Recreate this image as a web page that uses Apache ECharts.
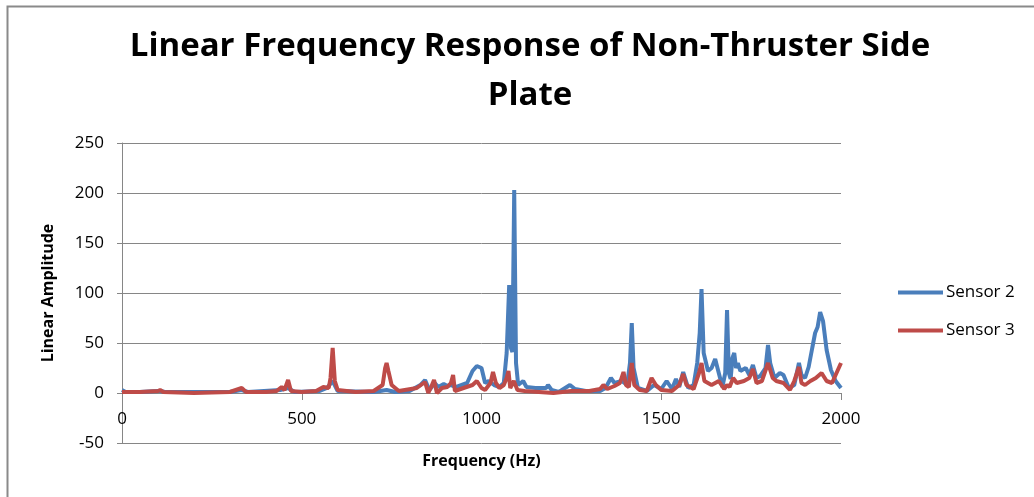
<!DOCTYPE html>
<html>
<head>
<meta charset="utf-8">
<script src="https://cdn.jsdelivr.net/npm/echarts@6/dist/echarts.min.js"></script>
<style>
html,body{margin:0;padding:0;background:#fff;}
#chart{width:1034px;height:497px;}
</style>
</head>
<body>
<div id="chart"></div>
<script>
var xTicks = [0, 500, 1000, 1500, 2000];
var yTicks = [-50, 0, 50, 100, 150, 200, 250];
var seriesNames = ['Sensor 2', 'Sensor 3'];

var freq2 = [0,10,50,100,106,120,200,300,333,350,440,462,480,550,570,586,600,700,736,760,800,830,843,855,870,880,895,905,915,930,960,975,987,1000,1010,1020,1035,1050,1062,1070,1077,1082,1086,1091,1096,1102,1116,1125,1150,1180,1185,1195,1215,1246,1260,1290,1330,1345,1360,1370,1390,1405,1413,1418,1423,1435,1460,1480,1500,1515,1530,1541,1550,1561,1575,1590,1600,1607,1612,1618,1630,1640,1650,1660,1670,1678,1683,1688,1693,1698,1703,1708,1713,1720,1735,1745,1755,1765,1775,1790,1797,1803,1815,1830,1840,1855,1870,1883,1890,1900,1910,1920,1928,1935,1942,1950,1960,1972,1985,2000];
var amp2 = [3,1,1,2,2,1,1,1,3,1,3,5,1,2,5,12,2,1,3,1,2,8,13,3,10,6,9,7,8,6,10,22,27,25,10,12,8,6,10,40,108,45,41,203,30,8,12,6,5,5,8,3,1,8,4,2,2,5,15,10,12,8,30,70,25,5,2,8,4,12,4,14,6,21,5,8,30,60,104,40,22,25,34,20,6,20,83,20,14,35,40,25,30,22,25,18,28,15,17,25,48,30,15,20,18,5,8,30,18,15,26,45,60,66,81,72,43,23,12,5];

var freq3 = [0,50,100,106,115,200,300,333,345,400,430,444,452,462,470,500,540,560,575,580,586,592,600,650,700,725,732,736,741,750,770,820,843,852,860,868,876,890,905,915,921,926,950,975,987,1000,1010,1025,1032,1040,1050,1062,1070,1075,1080,1090,1100,1120,1160,1200,1250,1300,1330,1339,1350,1370,1385,1395,1402,1410,1418,1425,1440,1460,1473,1485,1500,1530,1550,1561,1570,1590,1605,1612,1620,1640,1660,1675,1683,1690,1700,1710,1730,1745,1755,1765,1780,1797,1810,1820,1840,1858,1870,1883,1890,1900,1915,1930,1946,1960,1975,1990,2000];
var amp3 = [1,1,2,3,1,0,1,5,1,1,2,6,3,13,2,1,2,6,5,15,45,12,3,1,2,8,25,30,22,8,2,5,11,0,6,13,0,5,6,10,18,2,5,8,12,5,3,10,21,10,5,8,15,22,5,12,3,2,1,0,2,2,4,8,4,7,10,21,8,6,30,8,3,2,15,8,3,2,8,19,8,4,20,30,12,8,12,4,8,6,15,10,12,15,24,10,12,30,15,12,10,3,12,26,10,8,12,15,20,12,10,22,30];

function pairs(xs, ys){ return xs.map(function(x,i){ return [x, ys[i]]; }); }

var chart = echarts.init(document.getElementById('chart'), null, {renderer:'canvas'});
var font = 'Open Sans, Liberation Sans, sans-serif';
chart.setOption({
  animation: false,
  backgroundColor: '#ffffff',
  graphic: [{
    type: 'rect', left: 5, top: 4, silent: true,
    shape: {width: 1100, height: 600},
    style: {fill: 'none', stroke: '#8a8a8a', lineWidth: 2}
  }],
  title: {
    text: 'Linear Frequency Response of Non-Thruster Side\nPlate',
    left: 525, top: 17, textAlign: 'center',
    textStyle: {fontFamily: font, fontSize: 33, fontWeight: 'bold', color: '#000', lineHeight: 49}
  },
  legend: {
    orient: 'vertical', left: 893, top: 279,
    icon: 'rect', itemWidth: 45, itemHeight: 4, itemGap: 21,
    textStyle: {fontFamily: font, fontSize: 17, color: '#000', padding: [0,0,0,-2]},
    data: seriesNames
  },
  grid: {left: 122, right: 193, top: 143, bottom: 54, containLabel: false, outerBoundsMode: 'none'},
  xAxis: {
    type: 'value', min: xTicks[0], max: xTicks[xTicks.length-1], interval: 500,
    offset: -50,
    name: 'Frequency (Hz)', nameLocation: 'middle', nameGap: 60,
    nameTextStyle: {fontFamily: font, fontSize: 16, fontWeight: 'bold', color: '#000'},
    axisLine: {onZero: false, lineStyle: {color: '#868686', width: 1}},
    axisTick: {show: true, inside: false, length: 7, lineStyle: {color: '#868686'}},
    axisLabel: {fontFamily: font, fontSize: 17, color: '#000', margin: 18, formatter: function(v){ return String(v); }},
    splitLine: {show: false}
  },
  yAxis: {
    type: 'value', min: yTicks[0], max: yTicks[yTicks.length-1], interval: 50,
    name: 'Linear Amplitude', nameLocation: 'middle', nameGap: 66, nameRotate: 90,
    nameTextStyle: {fontFamily: font, fontSize: 16, fontWeight: 'bold', color: '#000'},
    axisLine: {show: true, onZero: false, lineStyle: {color: '#868686', width: 1}},
    axisTick: {show: true, inside: false, length: 5, lineStyle: {color: '#868686'}},
    axisLabel: {fontFamily: font, fontSize: 17, color: '#000', margin: 18, formatter: function(v){ return String(v); }},
    splitLine: {show: true, lineStyle: {color: '#868686', width: 1}}
  },
  series: [
    {name: seriesNames[0], type: 'line', data: pairs(freq2, amp2), showSymbol: false, symbol: 'none',
     color: '#4A7EBB', lineStyle: {width: 4, color: '#4A7EBB'}},
    {name: seriesNames[1], type: 'line', data: pairs(freq3, amp3), showSymbol: false, symbol: 'none',
     color: '#BE4B48', lineStyle: {width: 4, color: '#BE4B48'}}
  ]
});
</script>
</body>
</html>
